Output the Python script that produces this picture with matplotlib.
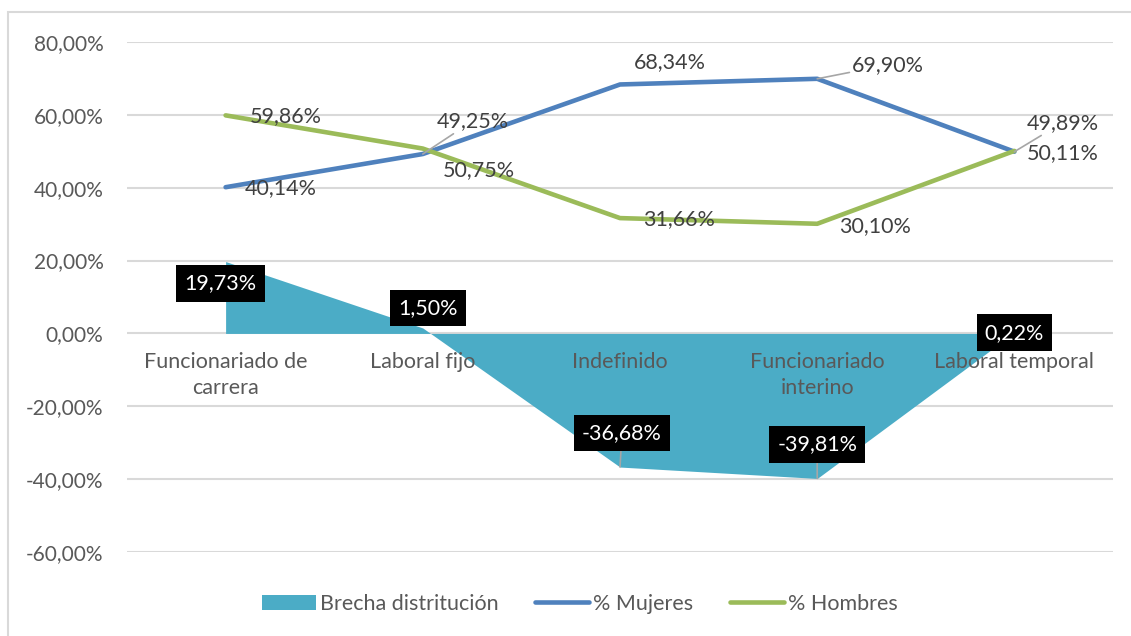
import matplotlib
matplotlib.use("Agg")
import matplotlib.pyplot as plt
from matplotlib.patches import Rectangle, Patch
from matplotlib.lines import Line2D

categories = ["Funcionariado de\ncarrera", "Laboral fijo", "Indefinido",
              "Funcionariado\ninterino", "Laboral temporal"]
brecha = [19.73, 1.50, -36.68, -39.81, 0.22]
mujeres = [40.14, 49.25, 68.34, 69.90, 49.89]
hombres = [59.86, 50.75, 31.66, 30.10, 50.11]
yticks = [-60, -40, -20, 0, 20, 40, 60, 80]

plt.rcParams['font.family'] = ['Lato', 'DejaVu Sans']

W, H = 1131, 636
fig = plt.figure(figsize=(W / 100, H / 100), dpi=100)
ax = fig.add_axes([127 / W, 1 - 552 / H, 986 / W, 510 / H])

x = [i + 0.5 for i in range(len(categories))]

C_BRECHA = '#4BACC6'
C_MUJ = '#4F81BD'
C_HOM = '#9BBB59'
GRID = '#D9D9D9'
TXT = '#404040'
TICK = '#595959'
FS = 15.5

ax.set_xlim(0, len(categories))
ax.set_ylim(-60, 80)
for y in yticks:
    ax.axhline(y, color=GRID, lw=1.5, zorder=0)

ax.fill_between(x, 0, brecha, color=C_BRECHA, lw=0, zorder=2)
ax.plot(x, mujeres, color=C_MUJ, lw=3.3, solid_capstyle='round',
        solid_joinstyle='round', zorder=3)
ax.plot(x, hombres, color=C_HOM, lw=3.3, solid_capstyle='round',
        solid_joinstyle='round', zorder=3)

for s in ax.spines.values():
    s.set_visible(False)
ax.set_xticks([])
ax.set_yticks(yticks)
ax.set_yticklabels([f"{v:.2f}".replace('.', ',') + '%' for v in yticks],
                   fontsize=15, color=TICK)
ax.tick_params(axis='y', length=0, pad=17)

def fmt(v):
    return f"{v:.2f}".replace('.', ',') + '%'

px = 0.72  # pixel -> points

# category labels under zero line
for xi, c in zip(x, categories):
    ax.annotate(c, xy=(xi, 0), xytext=(0, -19 * px), textcoords='offset points',
                ha='center', va='top', fontsize=FS, color=TICK,
                linespacing=1.35, zorder=4)

leader = dict(arrowstyle='-', color='#A6A6A6', lw=1.2, shrinkA=0, shrinkB=0)

muj_off = [(55, 1), (50, -33), (50, -22), (71, -14), (48, -29)]
muj_lead = [False, True, False, True, True]
hom_off = [(60, 1), (56, 22), (59, 1), (58, 2), (48, 2)]
bre_off = [(-5, 22), (5, -20), (2, -34), (0, -34), (0, 0)]
bre_lead = [False, False, True, True, False]

for xi, v, (dx, dy), ld in zip(x, mujeres, muj_off, muj_lead):
    ax.annotate(fmt(v), xy=(xi, v), xytext=(dx * px, -dy * px),
                textcoords='offset points', ha='center', va='center',
                fontsize=FS, color=TXT, zorder=5,
                arrowprops=leader if ld else None)
for xi, v, (dx, dy) in zip(x, hombres, hom_off):
    ax.annotate(fmt(v), xy=(xi, v), xytext=(dx * px, -dy * px),
                textcoords='offset points', ha='center', va='center',
                fontsize=FS, color=TXT, zorder=5)
for xi, v, (dx, dy), ld in zip(x, brecha, bre_off, bre_lead):
    ax.annotate(fmt(v), xy=(xi, v), xytext=(dx * px, -dy * px),
                textcoords='offset points', ha='center', va='center',
                fontsize=FS, color='white', zorder=6,
                bbox=dict(boxstyle='square,pad=0.38', fc='black', ec='none'),
                arrowprops=leader if ld else None)

# legend
handles = [Patch(facecolor=C_BRECHA, edgecolor='none'),
           Line2D([], [], color=C_MUJ, lw=3.3, solid_capstyle='round'),
           Line2D([], [], color=C_HOM, lw=3.3, solid_capstyle='round')]
labels = ["Brecha distritución", "% Mujeres", "% Hombres"]
leg = fig.legend(handles, labels, loc='center', bbox_to_anchor=(580 / W, 1 - 604 / H),
                 ncol=3, frameon=False, fontsize=FS, handlelength=2.5,
                 handleheight=0.75, handletextpad=0.2, columnspacing=1.7)
for t in leg.get_texts():
    t.set_color(TICK)

# chart border
fig.patches.append(Rectangle((7.5 / W, -0.05), 1.2, 1 - 12.5 / H + 0.05,
                             transform=fig.transFigure, fill=False,
                             ec=GRID, lw=1.5))

fig.savefig('out.png', dpi=100)
